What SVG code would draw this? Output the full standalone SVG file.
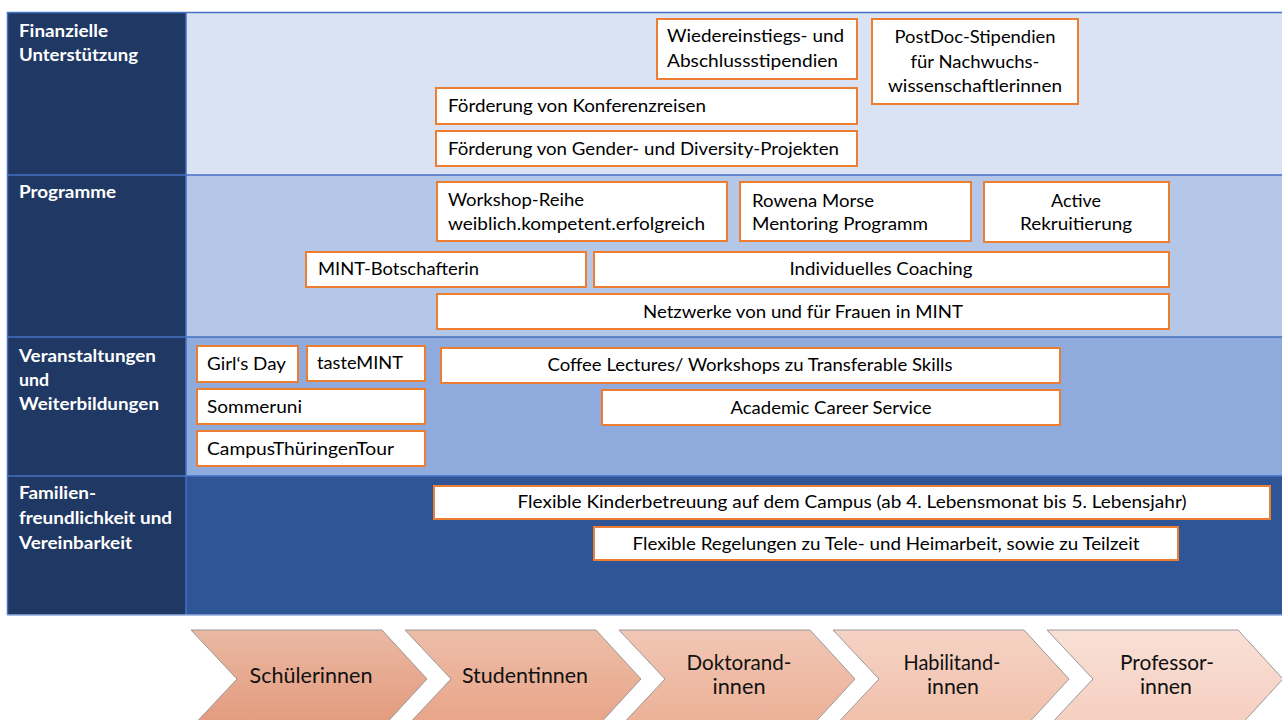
<svg xmlns="http://www.w3.org/2000/svg" width="1282" height="720" viewBox="0 0 1282 720">
<style>
.hdr{fill:#203864}
.sep{stroke:#4472C4;stroke-width:1.5;fill:none}
.box{fill:#ffffff;stroke:#ED7D31;stroke-width:2}
.t{font-family:Lato,"Liberation Sans",sans-serif;font-size:17px;fill:#000}
.c{text-anchor:middle}
.h{font-family:Lato,"Liberation Sans",sans-serif;font-size:16.5px;font-weight:bold;fill:#ffffff}
.ch{stroke:#9a9a9a;stroke-width:1}
.ct{font-family:Lato,"Liberation Sans",sans-serif;font-size:20.5px;fill:#111;text-anchor:middle}
</style>
<defs>
<linearGradient id="g1" x1="0" y1="0" x2="0" y2="1"><stop offset="0" stop-color="#EAB8A3"/><stop offset="1" stop-color="#E39A7C"/></linearGradient>
<linearGradient id="g2" x1="0" y1="0" x2="0" y2="1"><stop offset="0" stop-color="#EDBDA8"/><stop offset="1" stop-color="#E8A487"/></linearGradient>
<linearGradient id="g3" x1="0" y1="0" x2="0" y2="1"><stop offset="0" stop-color="#F1C7B5"/><stop offset="1" stop-color="#ECAF95"/></linearGradient>
<linearGradient id="g4" x1="0" y1="0" x2="0" y2="1"><stop offset="0" stop-color="#F5D3C5"/><stop offset="1" stop-color="#F1BFA9"/></linearGradient>
<linearGradient id="g5" x1="0" y1="0" x2="0" y2="1"><stop offset="0" stop-color="#F9E0D7"/><stop offset="1" stop-color="#F5CEBF"/></linearGradient>
</defs>
<rect width="1282" height="720" fill="#ffffff"/>

<g id="rows">
<rect x="186" y="12" width="1096" height="163" fill="#DAE3F3"/>
<rect x="186" y="175" width="1096" height="162" fill="#B4C7E7"/>
<rect x="186" y="337" width="1096" height="139" fill="#8FAADC"/>
<rect x="186" y="476" width="1096" height="139" fill="#2F5597"/>
<rect class="hdr" x="7" y="12" width="179" height="603"/>
<path class="sep" d="M7 12.5H1282M7 175H1282M7 337H1282M7 476H1282M186 12V615M7.5 12V615"/>
<path d="M7 615H1282" stroke="#8FAADC" stroke-width="1.5"/>
</g>

<g id="headers">
<text class="h" x="19" y="37" textLength="89" lengthAdjust="spacingAndGlyphs">Finanzielle</text>
<text class="h" x="19" y="61" textLength="119" lengthAdjust="spacingAndGlyphs">Unterstützung</text>
<text class="h" x="19" y="198" textLength="97" lengthAdjust="spacingAndGlyphs">Programme</text>
<text class="h" x="19" y="362" textLength="137" lengthAdjust="spacingAndGlyphs">Veranstaltungen</text>
<text class="h" x="19" y="386" textLength="30" lengthAdjust="spacingAndGlyphs">und</text>
<text class="h" x="19" y="410" textLength="140" lengthAdjust="spacingAndGlyphs">Weiterbildungen</text>
<text class="h" x="19" y="499" textLength="77" lengthAdjust="spacingAndGlyphs">Familien-</text>
<text class="h" x="19" y="524" textLength="153" lengthAdjust="spacingAndGlyphs">freundlichkeit und</text>
<text class="h" x="19" y="549" textLength="113" lengthAdjust="spacingAndGlyphs">Vereinbarkeit</text>
</g>

<g id="n-wiedereinstieg"><rect class="box" x="657" y="19" width="200" height="60"/>
<text class="t" x="667" y="42" textLength="177" lengthAdjust="spacingAndGlyphs">Wiedereinstiegs- und</text>
<text class="t" x="667" y="67" textLength="171" lengthAdjust="spacingAndGlyphs">Abschlussstipendien</text></g>
<g id="n-postdoc"><rect class="box" x="872" y="19" width="206" height="85"/>
<text class="t c" x="975" y="43" textLength="161" lengthAdjust="spacingAndGlyphs">PostDoc-Stipendien</text>
<text class="t c" x="975" y="68" textLength="129" lengthAdjust="spacingAndGlyphs">für Nachwuchs-</text>
<text class="t c" x="975" y="92" textLength="174" lengthAdjust="spacingAndGlyphs">wissenschaftlerinnen</text></g>
<g id="n-konferenz"><rect class="box" x="436" y="88" width="421" height="36"/>
<text class="t" x="448" y="112" textLength="258" lengthAdjust="spacingAndGlyphs">Förderung von Konferenzreisen</text></g>
<g id="n-gender"><rect class="box" x="436" y="131" width="421" height="35"/>
<text class="t" x="448" y="155" textLength="391" lengthAdjust="spacingAndGlyphs">Förderung von Gender- und Diversity-Projekten</text></g>

<g id="n-workshop"><rect class="box" x="437" y="182" width="290" height="59"/>
<text class="t" x="448" y="206" textLength="136" lengthAdjust="spacingAndGlyphs">Workshop-Reihe</text>
<text class="t" x="448" y="230" textLength="257" lengthAdjust="spacingAndGlyphs">weiblich.kompetent.erfolgreich</text></g>
<g id="n-rowena"><rect class="box" x="740" y="182" width="231" height="59"/>
<text class="t" x="752" y="207" textLength="122" lengthAdjust="spacingAndGlyphs">Rowena Morse</text>
<text class="t" x="752" y="230" textLength="176" lengthAdjust="spacingAndGlyphs">Mentoring Programm</text></g>
<g id="n-active"><rect class="box" x="984" y="182" width="185" height="60"/>
<text class="t c" x="1076" y="207" textLength="50" lengthAdjust="spacingAndGlyphs">Active</text>
<text class="t c" x="1076" y="230" textLength="112" lengthAdjust="spacingAndGlyphs">Rekruitierung</text></g>
<g id="n-mint"><rect class="box" x="306" y="252" width="280" height="35"/>
<text class="t" x="318" y="275" textLength="161" lengthAdjust="spacingAndGlyphs">MINT-Botschafterin</text></g>
<g id="n-coaching"><rect class="box" x="594" y="252" width="575" height="35"/>
<text class="t c" x="881" y="275" textLength="183" lengthAdjust="spacingAndGlyphs">Individuelles Coaching</text></g>
<g id="n-netzwerke"><rect class="box" x="437" y="294" width="732" height="35"/>
<text class="t c" x="803" y="318" textLength="320" lengthAdjust="spacingAndGlyphs">Netzwerke von und für Frauen in MINT</text></g>

<g id="n-girlsday"><rect class="box" x="197" y="346" width="101" height="36"/>
<text class="t" x="207" y="370" textLength="79" lengthAdjust="spacingAndGlyphs">Girl‘s Day</text></g>
<g id="n-tastemint"><rect class="box" x="307" y="346" width="118" height="35"/>
<text class="t" x="317" y="369" textLength="86" lengthAdjust="spacingAndGlyphs">tasteMINT</text></g>
<g id="n-sommeruni"><rect class="box" x="197" y="389" width="228" height="35"/>
<text class="t" x="207" y="413" textLength="95" lengthAdjust="spacingAndGlyphs">Sommeruni</text></g>
<g id="n-campus"><rect class="box" x="197" y="431" width="228" height="35"/>
<text class="t" x="207" y="455" textLength="187" lengthAdjust="spacingAndGlyphs">CampusThüringenTour</text></g>
<g id="n-coffee"><rect class="box" x="441" y="348" width="619" height="35"/>
<text class="t c" x="750" y="371" textLength="405" lengthAdjust="spacingAndGlyphs">Coffee Lectures/ Workshops zu Transferable Skills</text></g>
<g id="n-career"><rect class="box" x="602" y="390" width="458" height="35"/>
<text class="t c" x="831" y="414" textLength="201" lengthAdjust="spacingAndGlyphs">Academic Career Service</text></g>

<g id="n-kinder"><rect class="box" x="434" y="486" width="836" height="33"/>
<text class="t c" x="852" y="508" textLength="669" lengthAdjust="spacingAndGlyphs">Flexible Kinderbetreuung auf dem Campus (ab 4. Lebensmonat bis 5. Lebensjahr)</text></g>
<g id="n-tele"><rect class="box" x="594" y="527" width="584" height="33"/>
<text class="t c" x="886" y="550" textLength="507" lengthAdjust="spacingAndGlyphs">Flexible Regelungen zu Tele- und Heimarbeit, sowie zu Teilzeit</text></g>

<g id="stages">
<g id="s1"><polygon class="ch" fill="url(#g1)" points="191,630 382,630 427,679 382,728 191,728 237,679"/>
<text class="ct" x="311" y="683" textLength="123" lengthAdjust="spacingAndGlyphs">Schülerinnen</text></g>
<g id="s2"><polygon class="ch" fill="url(#g2)" points="405,630 596,630 641,679 596,728 405,728 451,679"/>
<text class="ct" x="525" y="683" textLength="126" lengthAdjust="spacingAndGlyphs">Studentinnen</text></g>
<g id="s3"><polygon class="ch" fill="url(#g3)" points="619,630 810,630 855,679 810,728 619,728 665,679"/>
<text class="ct" x="739" y="670" textLength="105" lengthAdjust="spacingAndGlyphs">Doktorand-</text>
<text class="ct" x="739" y="694" textLength="53" lengthAdjust="spacingAndGlyphs">innen</text></g>
<g id="s4"><polygon class="ch" fill="url(#g4)" points="833,630 1024,630 1069,679 1024,728 833,728 879,679"/>
<text class="ct" x="952" y="670" textLength="97" lengthAdjust="spacingAndGlyphs">Habilitand-</text>
<text class="ct" x="953" y="694" textLength="52" lengthAdjust="spacingAndGlyphs">innen</text></g>
<g id="s5"><polygon class="ch" fill="url(#g5)" points="1047,630 1238,630 1283,679 1238,728 1047,728 1093,679"/>
<text class="ct" x="1167" y="670" textLength="94" lengthAdjust="spacingAndGlyphs">Professor-</text>
<text class="ct" x="1166" y="694" textLength="52" lengthAdjust="spacingAndGlyphs">innen</text></g>
</g>
</svg>
